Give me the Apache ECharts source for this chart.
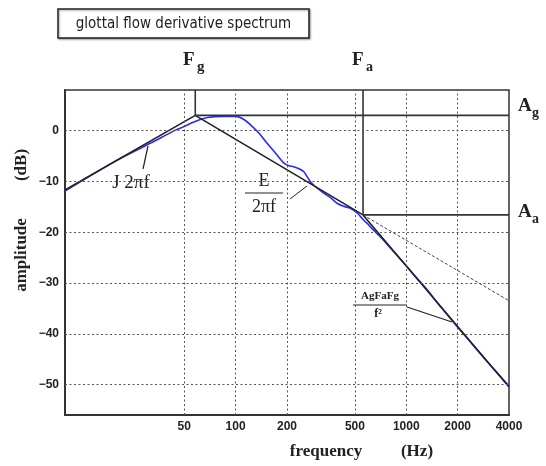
<!DOCTYPE html>
<html><head><meta charset="utf-8">
<script src="https://cdn.jsdelivr.net/npm/echarts@6/dist/echarts.min.js"></script>
<style>html,body{margin:0;padding:0;background:#fff}#c{width:546px;height:466px}</style>
</head><body><div id="c"></div>
<script>
// ---- data ----
const xTicks = [50, 100, 200, 500, 1000, 2000, 4000];
const yTicks = [0, -10, -20, -30, -40, -50];
const xRange = [10, 4000];
const yRange = [-56, 8];

// measured spectrum (blue)
const blueFreq = [10, 20, 32, 45, 50, 55, 61, 68.5, 85, 100, 112, 122.6, 138, 153, 172, 192, 205, 219, 235, 251, 275, 300, 328, 360, 393, 430, 470, 515, 562, 600, 643, 690, 736, 797, 900, 1000, 1150, 1300, 1600, 2000, 2500, 3000, 3500, 4000];
const blueDB   = [-11.9, -5.9, -2.4, 0.2, 0.8, 1.5, 2.1, 2.6, 2.8, 2.8, 2.2, 1.1, -0.6, -2.5, -4.5, -6.4, -6.9, -7.1, -7.5, -8.1, -10.1, -11.3, -12.3, -13.2, -14.3, -14.9, -15.3, -16.2, -17.6, -18.5, -19.6, -20.6, -21.6, -22.9, -24.9, -26.6, -29.0, -31.0, -34.8, -38.7, -42.5, -45.6, -48.1, -50.3];

// asymptotic model (black)
const modelFreq = [10, 58, 558, 4000];
const modelDB   = [-11.7, 3, -16.6, -50.5];
// -6 dB/oct continuation (dotted)
const tiltFreq = [558, 4000];
const tiltDB   = [-16.6, -33.5];

const Fg = 58, Fa = 558, Ag = 3, Aa = -16.6;

// ---- helpers ----
const lg = Math.log10;
const pairs = (fs, ds) => fs.map((f, i) => [lg(f), ds[i]]);

const chart = echarts.init(document.getElementById('c'), null, {renderer: 'canvas'});
const ink = '#222';
const gridStyle = {color: '#555', width: 1, type: [2, 2.5]};

const option = {
  animation: false,
  backgroundColor: '#fff',
  grid: {left: 65, right: 37, top: 90, bottom: 51, show: true, borderColor: '#333', borderWidth: 1.5, containLabel: false},
  xAxis: {
    type: 'value', min: lg(xRange[0]), max: lg(xRange[1]),
    axisLine: {show: true, onZero: false, lineStyle: {color: '#333', width: 2}},
    axisTick: {show: false},
    splitLine: {show: false},
    axisLabel: {
      customValues: xTicks.map(lg), margin: 6,
      formatter: v => String(Math.round(Math.pow(10, v))),
      color: ink, fontFamily: 'Liberation Sans', fontSize: 12, fontWeight: 'bold'
    }
  },
  yAxis: {
    type: 'value', min: yRange[0], max: yRange[1],
    axisLine: {show: true, onZero: false, lineStyle: {color: '#333', width: 2}},
    axisTick: {show: false},
    splitLine: {show: false},
    axisLabel: {
      customValues: yTicks, margin: 6,
      formatter: v => (v < 0 ? '\u2212' + Math.abs(v) : String(v)),
      color: ink, fontFamily: 'Liberation Sans', fontSize: 12, fontWeight: 'bold'
    }
  },
  series: [
    {
      type: 'line', data: [], silent: true,
      markLine: {
        silent: true, symbol: 'none', label: {show: false},
        lineStyle: gridStyle,
        data: xTicks.filter(v => v < xRange[1]).map(v => ({xAxis: lg(v)}))
          .concat(yTicks.map(v => ({yAxis: v})))
      }
    },
    {type: 'line', data: pairs(tiltFreq, tiltDB), showSymbol: false, silent: true,
     lineStyle: {color: '#444', width: 1, type: [3, 2]}},
    {type: 'line', data: pairs(blueFreq, blueDB), showSymbol: false, smooth: 0.3, silent: true,
     lineStyle: {color: '#2b2bff', width: 1.6}},
    {type: 'line', data: pairs(modelFreq, modelDB), showSymbol: false, silent: true,
     lineStyle: {color: ink, width: 1.6}},
    {type: 'line', data: [[lg(Fg), yRange[1]], [lg(Fg), Ag], [lg(xRange[1]), Ag]], showSymbol: false, silent: true,
     lineStyle: {color: '#333', width: 1.6}},
    {type: 'line', data: [[lg(Fa), yRange[1]], [lg(Fa), Aa], [lg(xRange[1]), Aa]], showSymbol: false, silent: true,
     lineStyle: {color: '#333', width: 1.6}}
  ],
  graphic: [
    {type: 'rect', shape: {x: 58, y: 9, width: 251, height: 29},
     style: {fill: '#fff', stroke: ink, lineWidth: 1.5, shadowBlur: 2, shadowColor: 'rgba(0,0,0,0.35)', shadowOffsetX: 1, shadowOffsetY: 1}},
    {type: 'text', x: 183.5, y: 24, style: {text: 'glottal flow derivative spectrum', align: 'center', verticalAlign: 'middle',
      font: '15px "DejaVu Sans Condensed"', fill: ink}},
    // Fg / Fa
    {type: 'text', x: 183, y: 51, style: {text: 'F', font: 'bold 19px "Liberation Serif"', fill: ink}},
    {type: 'text', x: 197, y: 60, style: {text: 'g', font: 'bold 15px "Liberation Serif"', fill: ink}},
    {type: 'text', x: 352, y: 51, style: {text: 'F', font: 'bold 19px "Liberation Serif"', fill: ink}},
    {type: 'text', x: 366, y: 60, style: {text: 'a', font: 'bold 14px "Liberation Serif"', fill: ink}},
    // Ag / Aa
    {type: 'text', x: 518, y: 97, style: {text: 'A', font: 'bold 19px "Liberation Serif"', fill: ink}},
    {type: 'text', x: 532, y: 106, style: {text: 'g', font: 'bold 14px "Liberation Serif"', fill: ink}},
    {type: 'text', x: 518, y: 203, style: {text: 'A', font: 'bold 19px "Liberation Serif"', fill: ink}},
    {type: 'text', x: 532, y: 212, style: {text: 'a', font: 'bold 14px "Liberation Serif"', fill: ink}},
    // J 2πf
    {type: 'text', x: 131, y: 183, style: {text: 'J 2\u03c0f', align: 'center', verticalAlign: 'middle', font: '19px "Liberation Serif"', fill: ink}},
    {type: 'line', shape: {x1: 143, y1: 169, x2: 148, y2: 146}, style: {stroke: ink, lineWidth: 1.2}},
    // E / 2πf
    {type: 'text', x: 264, y: 181, style: {text: 'E', align: 'center', verticalAlign: 'middle', font: '18px "Liberation Serif"', fill: ink}},
    {type: 'line', shape: {x1: 245, y1: 193, x2: 283, y2: 193}, style: {stroke: ink, lineWidth: 1}},
    {type: 'text', x: 264, y: 207, style: {text: '2\u03c0f', align: 'center', verticalAlign: 'middle', font: '18px "Liberation Serif"', fill: ink}},
    {type: 'line', shape: {x1: 290, y1: 199, x2: 307, y2: 186}, style: {stroke: ink, lineWidth: 1}},
    // AgFaFg / f²
    {type: 'text', x: 380, y: 296, style: {text: 'AgFaFg', align: 'center', verticalAlign: 'middle', font: 'bold 11px "Liberation Serif"', fill: ink}},
    {type: 'line', shape: {x1: 353, y1: 305, x2: 407, y2: 305}, style: {stroke: ink, lineWidth: 1}},
    {type: 'text', x: 378, y: 314, style: {text: 'f\u00b2', align: 'center', verticalAlign: 'middle', font: 'bold 12px "Liberation Serif"', fill: ink}},
    {type: 'line', shape: {x1: 407, y1: 307, x2: 452, y2: 322}, style: {stroke: ink, lineWidth: 1.2}},
    // axis titles
    {type: 'text', x: 326, y: 452, style: {text: 'frequency', align: 'center', verticalAlign: 'middle', font: 'bold 17px "Liberation Serif"', fill: ink}},
    {type: 'text', x: 417, y: 452, style: {text: '(Hz)', align: 'center', verticalAlign: 'middle', font: 'bold 17px "Liberation Serif"', fill: ink}},
    {type: 'text', x: 22, y: 255, rotation: Math.PI / 2, style: {text: 'amplitude', align: 'center', verticalAlign: 'middle', font: 'bold 17px "Liberation Serif"', fill: ink}},
    {type: 'text', x: 22, y: 165, rotation: Math.PI / 2, style: {text: '(dB)', align: 'center', verticalAlign: 'middle', font: 'bold 17px "Liberation Serif"', fill: ink}}
  ]
};
chart.setOption(option);
</script>
</body></html>
